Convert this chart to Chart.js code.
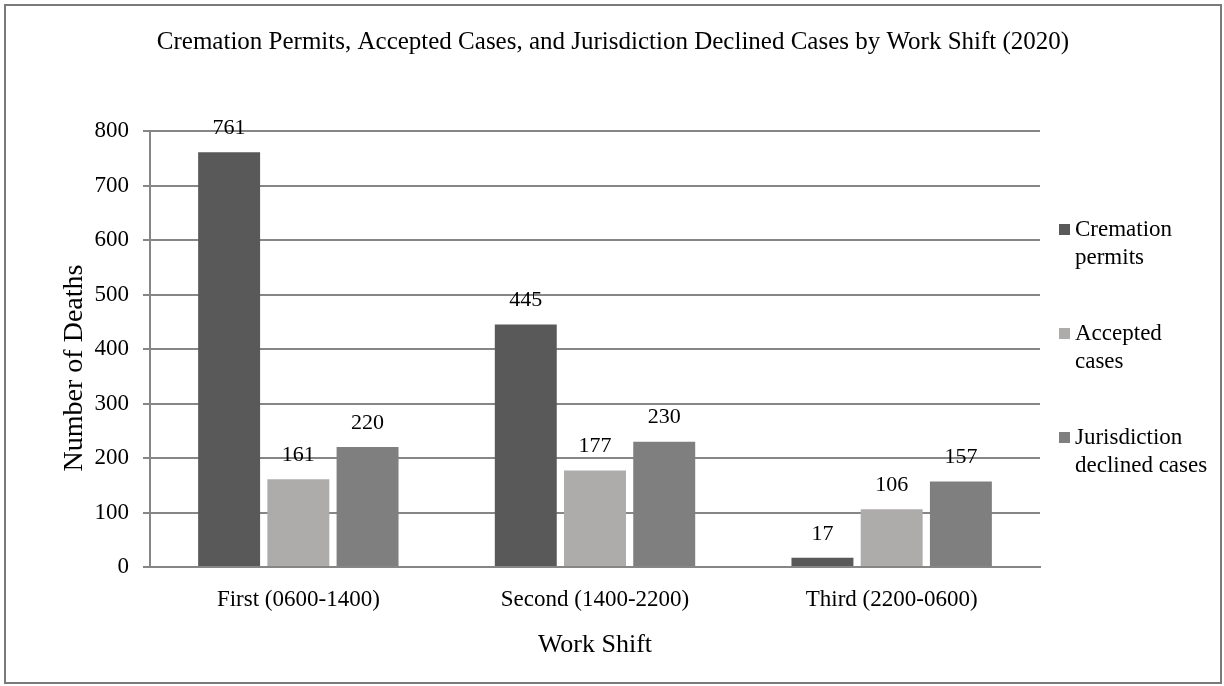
<!DOCTYPE html>
<html>
<head>
<meta charset="utf-8">
<script src="https://cdn.jsdelivr.net/npm/chart.js@4.4.0/dist/chart.umd.min.js"></script>
<style>
  html, body { margin: 0; padding: 0; background: #fff; }
  #wrap {
    position: absolute; left: 4px; top: 4px;
    width: 1214px; height: 676px;
    border: 2px solid #7a7a7a;
  }
  #wrap canvas { display: block; }
</style>
</head>
<body>
<div id="wrap"><canvas id="myChart" width="1214" height="676"></canvas></div>
<script>
const chartTitle = 'Cremation Permits, Accepted Cases, and Jurisdiction Declined Cases by Work Shift (2020)';
const shifts = ['First (0600-1400)', 'Second (1400-2200)', 'Third (2200-0600)'];
const cremationPermits = [761, 445, 17];
const acceptedCases = [161, 177, 106];
const declinedCases = [220, 230, 157];
const seriesNames = [['Cremation', 'permits'], ['Accepted', 'cases'], ['Jurisdiction', 'declined cases']];
const seriesColors = ['#595959', '#aeabab', '#7f7f7f'];

const serif = "'Liberation Serif', 'Times New Roman', serif";

// value labels above each bar
const barLabels = {
  id: 'barLabels',
  afterDatasetsDraw(chart) {
    const ctx = chart.ctx;
    ctx.save();
    ctx.font = '22px ' + serif;
    ctx.fillStyle = '#000';
    ctx.textAlign = 'center';
    ctx.textBaseline = 'middle';
    chart.data.datasets.forEach((ds, i) => {
      chart.getDatasetMeta(i).data.forEach((bar, j) => {
        ctx.fillText(ds.data[j], bar.x, bar.y - 24);
      });
    });
    ctx.restore();
  }
};

// title across the whole frame + y axis title sitting a bit low, like the original
const texts = {
  id: 'texts',
  afterDraw(chart) {
    const ctx = chart.ctx;
    ctx.save();
    ctx.fillStyle = '#000';
    ctx.textAlign = 'center';
    ctx.textBaseline = 'middle';
    ctx.font = '25px ' + serif;
    ctx.fillText(chartTitle, chart.width / 2, 36);
    ctx.translate(69, 362);
    ctx.rotate(-Math.PI / 2);
    ctx.font = '28px ' + serif;
    ctx.fillText('Number of Deaths', 0, 0);
    ctx.restore();
  }
};

// legend on the right with wrapped names
const sideLegend = {
  id: 'sideLegend',
  afterDraw(chart) {
    const ctx = chart.ctx;
    const x = chart.chartArea.right + 19;
    const tops = [223, 327, 431];
    ctx.save();
    ctx.font = '23px ' + serif;
    ctx.textBaseline = 'middle';
    seriesNames.forEach((lines, i) => {
      ctx.fillStyle = seriesColors[i];
      ctx.fillRect(x, tops[i] - 5, 11, 11);
      ctx.fillStyle = '#000';
      lines.forEach((t, k) => ctx.fillText(t, x + 16, tops[i] + 1 + k * 28));
    });
    ctx.restore();
  }
};

new Chart(document.getElementById('myChart').getContext('2d'), {
  type: 'bar',
  data: {
    labels: shifts,
    datasets: [
      { label: 'Cremation permits', data: cremationPermits, backgroundColor: seriesColors[0] },
      { label: 'Accepted cases', data: acceptedCases, backgroundColor: seriesColors[1] },
      { label: 'Jurisdiction declined cases', data: declinedCases, backgroundColor: seriesColors[2] }
    ]
  },
  options: {
    responsive: false,
    animation: false,
    layout: { padding: { left: 0, right: 180, top: 125, bottom: 0 } },
    datasets: { bar: { categoryPercentage: 0.7, barPercentage: 0.895 } },
    plugins: {
      legend: { display: false },
      tooltip: { enabled: false },
      title: { display: false }
    },
    scales: {
      x: {
        afterFit(s) { s.height = 115; },
        grid: { display: false },
        border: { display: true, color: '#868686', width: 2 },
        ticks: { color: '#000', font: { family: serif, size: 23 }, padding: 11 },
        title: { display: true, text: 'Work Shift', color: '#000', font: { family: serif, size: 26 }, padding: { top: 21, bottom: 21 } }
      },
      y: {
        afterFit(s) { s.width = 144; },
        min: 0, max: 800,
        ticks: { stepSize: 100, color: '#000', font: { family: serif, size: 23 }, padding: 14 },
        grid: { color: '#868686', lineWidth: 2, tickLength: 7 },
        border: { display: true, color: '#868686', width: 2 }
      }
    }
  },
  plugins: [barLabels, texts, sideLegend]
});
</script>
</body>
</html>
